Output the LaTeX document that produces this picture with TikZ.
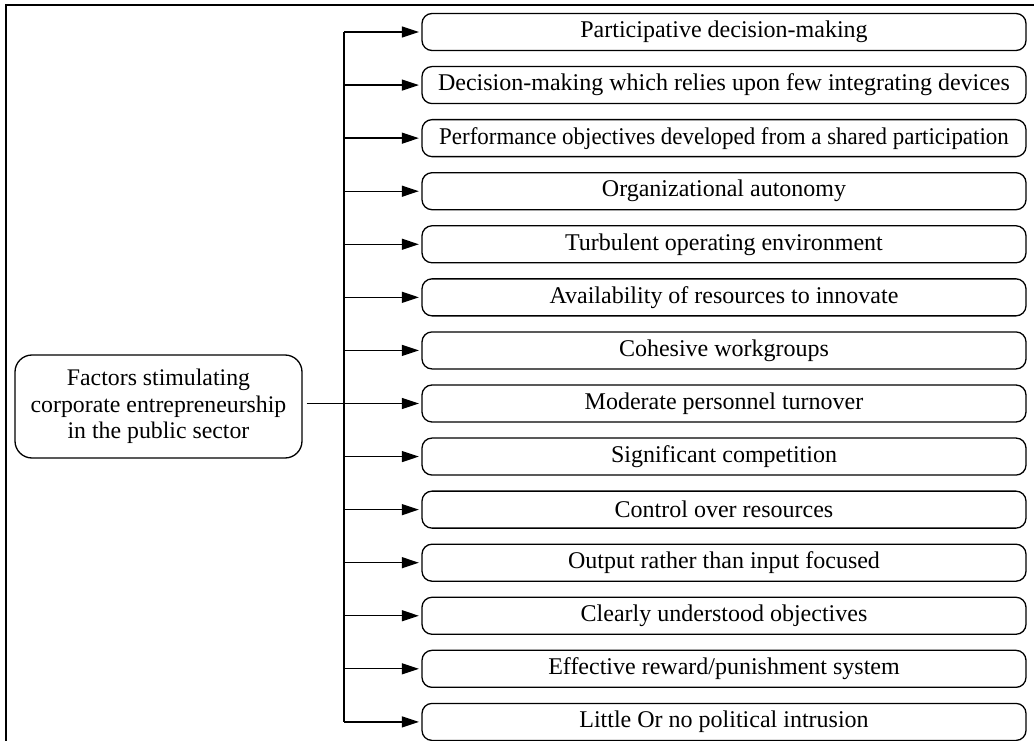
\documentclass[tikz,border=0pt]{standalone}
\usepackage{fontspec}
\usepackage{graphicx}
\setmainfont{Liberation Serif}
\usetikzlibrary{arrows.meta}
\begin{document}
\begin{tikzpicture}[x=1pt,y=-1pt,
  factor/.style={draw, line width=1.3pt, rounded corners=10pt,
    minimum width=604pt, minimum height=37pt, inner sep=0pt,
    font=\fontsize{24}{28}\selectfont},
  hub/.style={draw, line width=1.3pt, rounded corners=17pt,
    minimum width=287pt, minimum height=103pt, align=center,
    font=\fontsize{23.8}{26.5}\selectfont},
  link/.style={line width=1.3pt, -{Triangle[length=17pt,width=11pt]}, shorten >=2.5pt}]
\useasboundingbox (0,0) rectangle (1034,741);
% open frame: top and left edges only
\draw[line width=1.8pt] (1034,5) -- (6,5) -- (6,741);

\node[hub] (src) at (158.5,406.5) {Factors stimulating\\corporate entrepreneurship\\in the public sector};

\foreach \i/\txt in {
  0/{Participative decision-making},
  1/{Decision-making which relies upon few integrating devices},
  2/{\scalebox{0.956}[1]{Performance objectives developed from a shared participation}},
  3/{Organizational autonomy},
  4/{Turbulent operating environment},
  5/{Availability of resources to innovate},
  6/{Cohesive workgroups},
  7/{Moderate personnel turnover},
  8/{Significant competition},
  9/{Control over resources},
  10/{Output rather than input focused},
  11/{Clearly understood objectives},
  12/{Effective reward/punishment system},
  13/{Little Or no political intrusion}} {
  \node[factor] (f\i) at (724,32+53.07*\i) {\txt};
}

% trunk from the first to the last factor
\coordinate (ttop) at (344,32);
\coordinate (tbot) at (344,721.9);
\draw[line width=1.3pt] (ttop) -- (tbot);
\foreach \i in {0,1,2,3,4,5,6,8,9,10,11,12,13} {
  \draw[link] (ttop |- f\i.west) -- (f\i.west);
}
\draw[link] ([xshift=4pt]src.east |- f7.west) -- (f7.west);
\end{tikzpicture}
\end{document}
